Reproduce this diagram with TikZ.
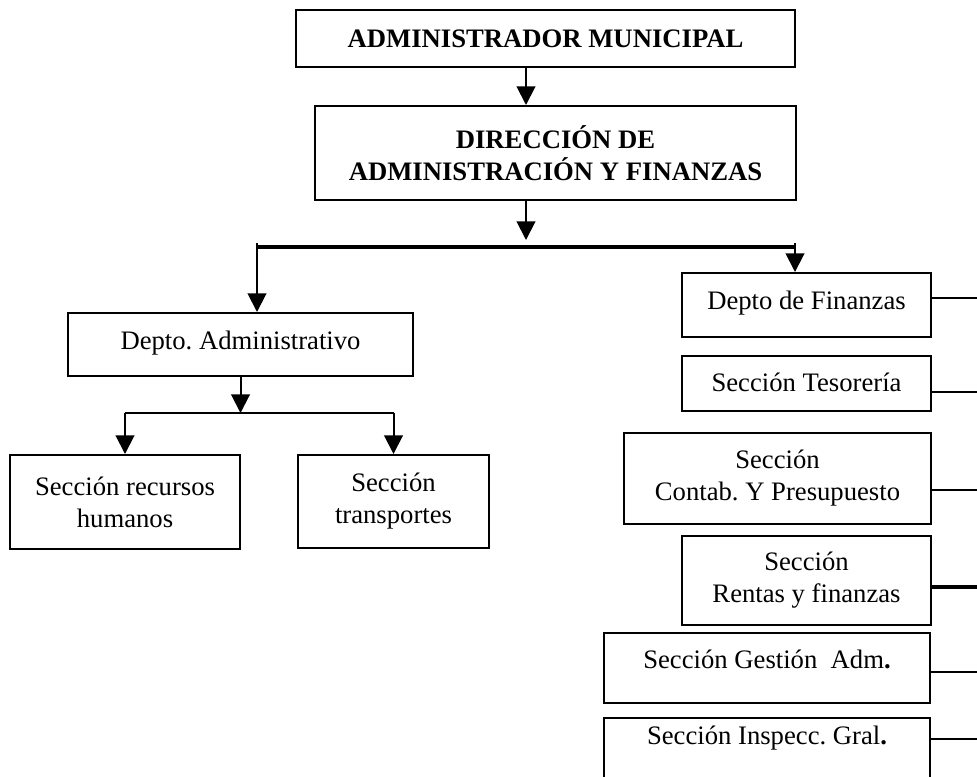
\documentclass[tikz,border=0pt]{standalone}
\usepackage{fontspec}
\setmainfont{Liberation Serif}
\usetikzlibrary{arrows.meta,calc}
\frenchspacing
\begin{document}
\begin{tikzpicture}[x=0.75pt,y=-0.75pt,
  box/.style={draw, line width=1.5pt, inner sep=0pt, align=center, anchor=north west,
    font=\fontsize{20}{24}\selectfont},
  boldbox/.style={box, font={\fontsize{20}{24}\selectfont\bfseries}},
  sz/.style 2 args={minimum width=#1*0.75pt, minimum height=#2*0.75pt},
  conn/.style={line width=1.5pt},
  arr/.style={line width=1.5pt, -{Triangle[length=14pt,width=14pt]}},
  bus/.style={line width=2.5pt}]
\useasboundingbox (0,0) rectangle (977,776);
\clip (0,0) rectangle (977,776);

% boxes
\node[boldbox,sz={499}{57},text height=14pt,text depth=0.5pt] (top) at (295,9) {ADMINISTRADOR MUNICIPAL};
\node[boldbox,sz={481}{94}] (dir) at (314,105) {DIRECCIÓN DE\\ADMINISTRACIÓN Y FINANZAS};
\node[box,sz={345}{63},text height=14pt,text depth=7.25pt] (adm) at (67,312) {Depto. Administrativo};
\node[box,sz={230}{94}] (rec) at (9,454) {Sección recursos\\humanos};
\node[box,sz={191}{93}] (tra) at (297,454) {Sección\\transportes};
\node[box,sz={249}{64},text height=14pt,text depth=8pt] (fin) at (681,272) {Depto de Finanzas};
\node[box,sz={249}{55},text height=14pt,text depth=2.75pt] (tes) at (681,355) {Sección Tesorería};
\node[box,sz={307}{91}] (con) at (623,432) {Sección\\Contab. Y Presupuesto};
\node[box,sz={249}{89}] (ren) at (681,535) {Sección\\Rentas y finanzas};
\node[box,sz={326}{70},text height=14pt,text depth=14pt] (ges) at (603,632) {Sección Gestión~ Adm\textbf{.}};
\node[box,sz={326}{70},text height=14pt,text depth=27.5pt] (ins) at (603,717) {Sección Inspecc. Gral\textbf{.}};

% helper coordinates
\coordinate (ca) at (526,0);
\coordinate (tipc) at (526,240);
\coordinate (lx) at (257,247);
\coordinate (rx) at (795,247);
\coordinate (sb) at (0,413);

% main connectors
\draw[arr] (ca |- top.south) -- (ca |- dir.north);
\draw[arr] (ca |- dir.south) -- (tipc);
\draw[bus] (lx) -- (rx);
\draw[arr] ([yshift=3pt]lx) -- (lx |- adm.north);
\draw[arr] ([yshift=3pt]rx) -- (rx |- fin.north);

% left sub-branch
\draw[arr] (adm.south) -- (adm.south |- sb);
\draw[conn] (rec.north |- sb) -- (tra.north |- sb);
\draw[arr] (rec.north |- sb) -- (rec.north);
\draw[arr] (tra.north |- sb) -- (tra.north);

% right column lines
\draw[conn] ([yshift=5.25pt]fin.east) -- ++(80,0);
\draw[conn] ([yshift=-6.4pt]tes.east) -- ++(80,0);
\draw[conn] ([yshift=-8.6pt]con.east) -- ++(80,0);
\draw[bus] ([yshift=-4.9pt]ren.east) -- ++(80,0);
\draw[conn] ([yshift=-3pt]ges.east) -- ++(80,0);
\draw[conn] ([yshift=10.5pt]ins.east) -- ++(80,0);
\end{tikzpicture}
\end{document}
